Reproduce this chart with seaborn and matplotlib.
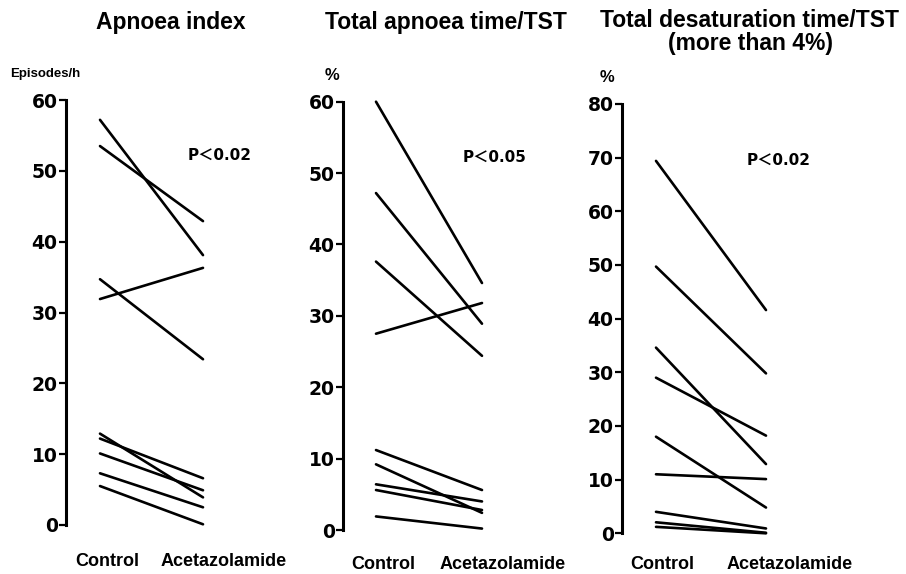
import matplotlib
matplotlib.use("Agg")
import matplotlib.pyplot as plt
import seaborn as sns
import pandas as pd

# ---- data ----
conditions = ["Control", "Acetazolamide"]

apnoea_index_control = [57.2, 53.5, 34.7, 31.9, 12.9, 12.2, 10.1, 7.3, 5.5]
apnoea_index_acet = [38.1, 42.9, 23.4, 36.3, 3.9, 6.6, 4.9, 2.5, 0.1]

apnoea_time_control = [60.0, 47.2, 37.6, 27.5, 11.2, 9.2, 6.4, 5.6, 1.9]
apnoea_time_acet = [34.6, 28.9, 24.4, 31.8, 5.6, 2.4, 4.0, 2.8, 0.2]

desat_time_control = [69.4, 49.7, 34.6, 29.0, 18.0, 11.0, 4.0, 2.05, 1.2]
desat_time_acet = [41.6, 29.8, 12.9, 18.2, 4.8, 10.1, 0.9, 0.1, 0.0]

titles = ["Apnoea index", "Total apnoea time/TST",
          "Total desaturation time/TST\n(more than 4%)"]
units = ["Episodes/h", "%", "%"]
p_texts = ["P\uff1c0.02", "P\uff1c0.05", "P\uff1c0.02"]
yticks_list = [[0, 10, 20, 30, 40, 50, 60],
               [0, 10, 20, 30, 40, 50, 60],
               [0, 10, 20, 30, 40, 50, 60, 70, 80]]


def long_df(ctrl, acet):
    rows = []
    for i, (c, a) in enumerate(zip(ctrl, acet)):
        rows.append({"subject": i, "x": 0, "value": c})
        rows.append({"subject": i, "x": 1, "value": a})
    return pd.DataFrame(rows)


dfs = [long_df(apnoea_index_control, apnoea_index_acet),
       long_df(apnoea_time_control, apnoea_time_acet),
       long_df(desat_time_control, desat_time_acet)]

sns.set_style("white")
plt.rcParams["font.family"] = ["DejaVu Sans", "Noto Sans CJK JP"]
plt.rcParams["text.color"] = "black"
plt.rcParams["axes.labelcolor"] = "black"
plt.rcParams["xtick.color"] = "black"
plt.rcParams["ytick.color"] = "black"

W, H = 906, 574
fig = plt.figure(figsize=(W / 100, H / 100), dpi=100)

# layout in pixels: (spine x, y top, y bottom, control x, acet x, width, ymax)
layouts = [
    (66, 100.0, 525.0, 100, 203, 224, 60),
    (343, 101.7, 530.0, 376, 482, 230, 60),
    (622, 104.0, 533.3, 656, 766, 270, 80),
]
xlabel_centers = [(107, 224), (383, 503), (662, 790)]
label_pads = [20, 18.5, 16.5]
p_pos = [(188, 155), (463, 157.5), (747, 160)]
title_pos = [(171, 22), (446, 22), (750, 32)]
unit_pos = [(10, 74, "left"), (325, 75, "left"), (600, 77, "left")]

for k in range(3):
    sx, yt, yb, cx, ax_x, wpx, ymax = layouts[k]
    ax = fig.add_axes([sx / W, (H - yb) / H, wpx / W, (yb - yt) / H])
    ppu = ax_x - cx
    x0 = -(cx - sx) / ppu
    sns.lineplot(data=dfs[k], x="x", y="value", units="subject",
                 estimator=None, color="black", linewidth=1.9, ax=ax,
                 legend=False, clip_on=False)
    ax.set_xlim(x0, x0 + wpx / ppu)
    ax.set_ylim(0, ymax)
    ax.set_yticks(yticks_list[k])
    ax.set_yticklabels([str(v) for v in yticks_list[k]],
                       fontsize=13.5, fontweight="bold",
                       family=["DejaVu Sans"], color="black")
    lc, la = xlabel_centers[k]
    ax.set_xticks([(lc - cx) / ppu, (la - cx) / ppu])
    ax.set_xticklabels(conditions, fontsize=13, fontweight="bold",
                       family=["Liberation Sans", "DejaVu Sans"],
                       color="black")
    ax.tick_params(axis="x", length=0, pad=label_pads[k])
    ax.tick_params(axis="y", direction="out", length=5, width=1.6, pad=1,
                   left=True, color="black")
    for s in ["top", "right", "bottom"]:
        ax.spines[s].set_visible(False)
    ax.spines["left"].set_linewidth(2.2)
    ax.spines["left"].set_color("black")
    ax.set_xlabel("")
    ax.set_ylabel("")
    ax.patch.set_alpha(0)

    px, py = p_pos[k]
    ax.text((px - cx) / ppu, (yb - py) / (yb - yt) * ymax, p_texts[k],
            fontsize=11, fontweight="bold", ha="left", va="center",
            color="black", family=["DejaVu Sans", "Noto Sans CJK JP"])

    tx, ty = title_pos[k]
    fig.text(tx / W, 1 - ty / H, titles[k], fontsize=16.5, fontweight="bold",
             ha="center", va="center", multialignment="center",
             linespacing=1.0, color="black",
             family=["Liberation Sans", "DejaVu Sans"])
    ux, uy, uha = unit_pos[k]
    fig.text(ux / W, 1 - uy / H, units[k],
             fontsize=9.5 if k == 0 else 12, fontweight="bold",
             ha=uha, va="center", color="black",
             family=["Liberation Sans", "DejaVu Sans"])

fig.savefig("out.png", dpi=100)
